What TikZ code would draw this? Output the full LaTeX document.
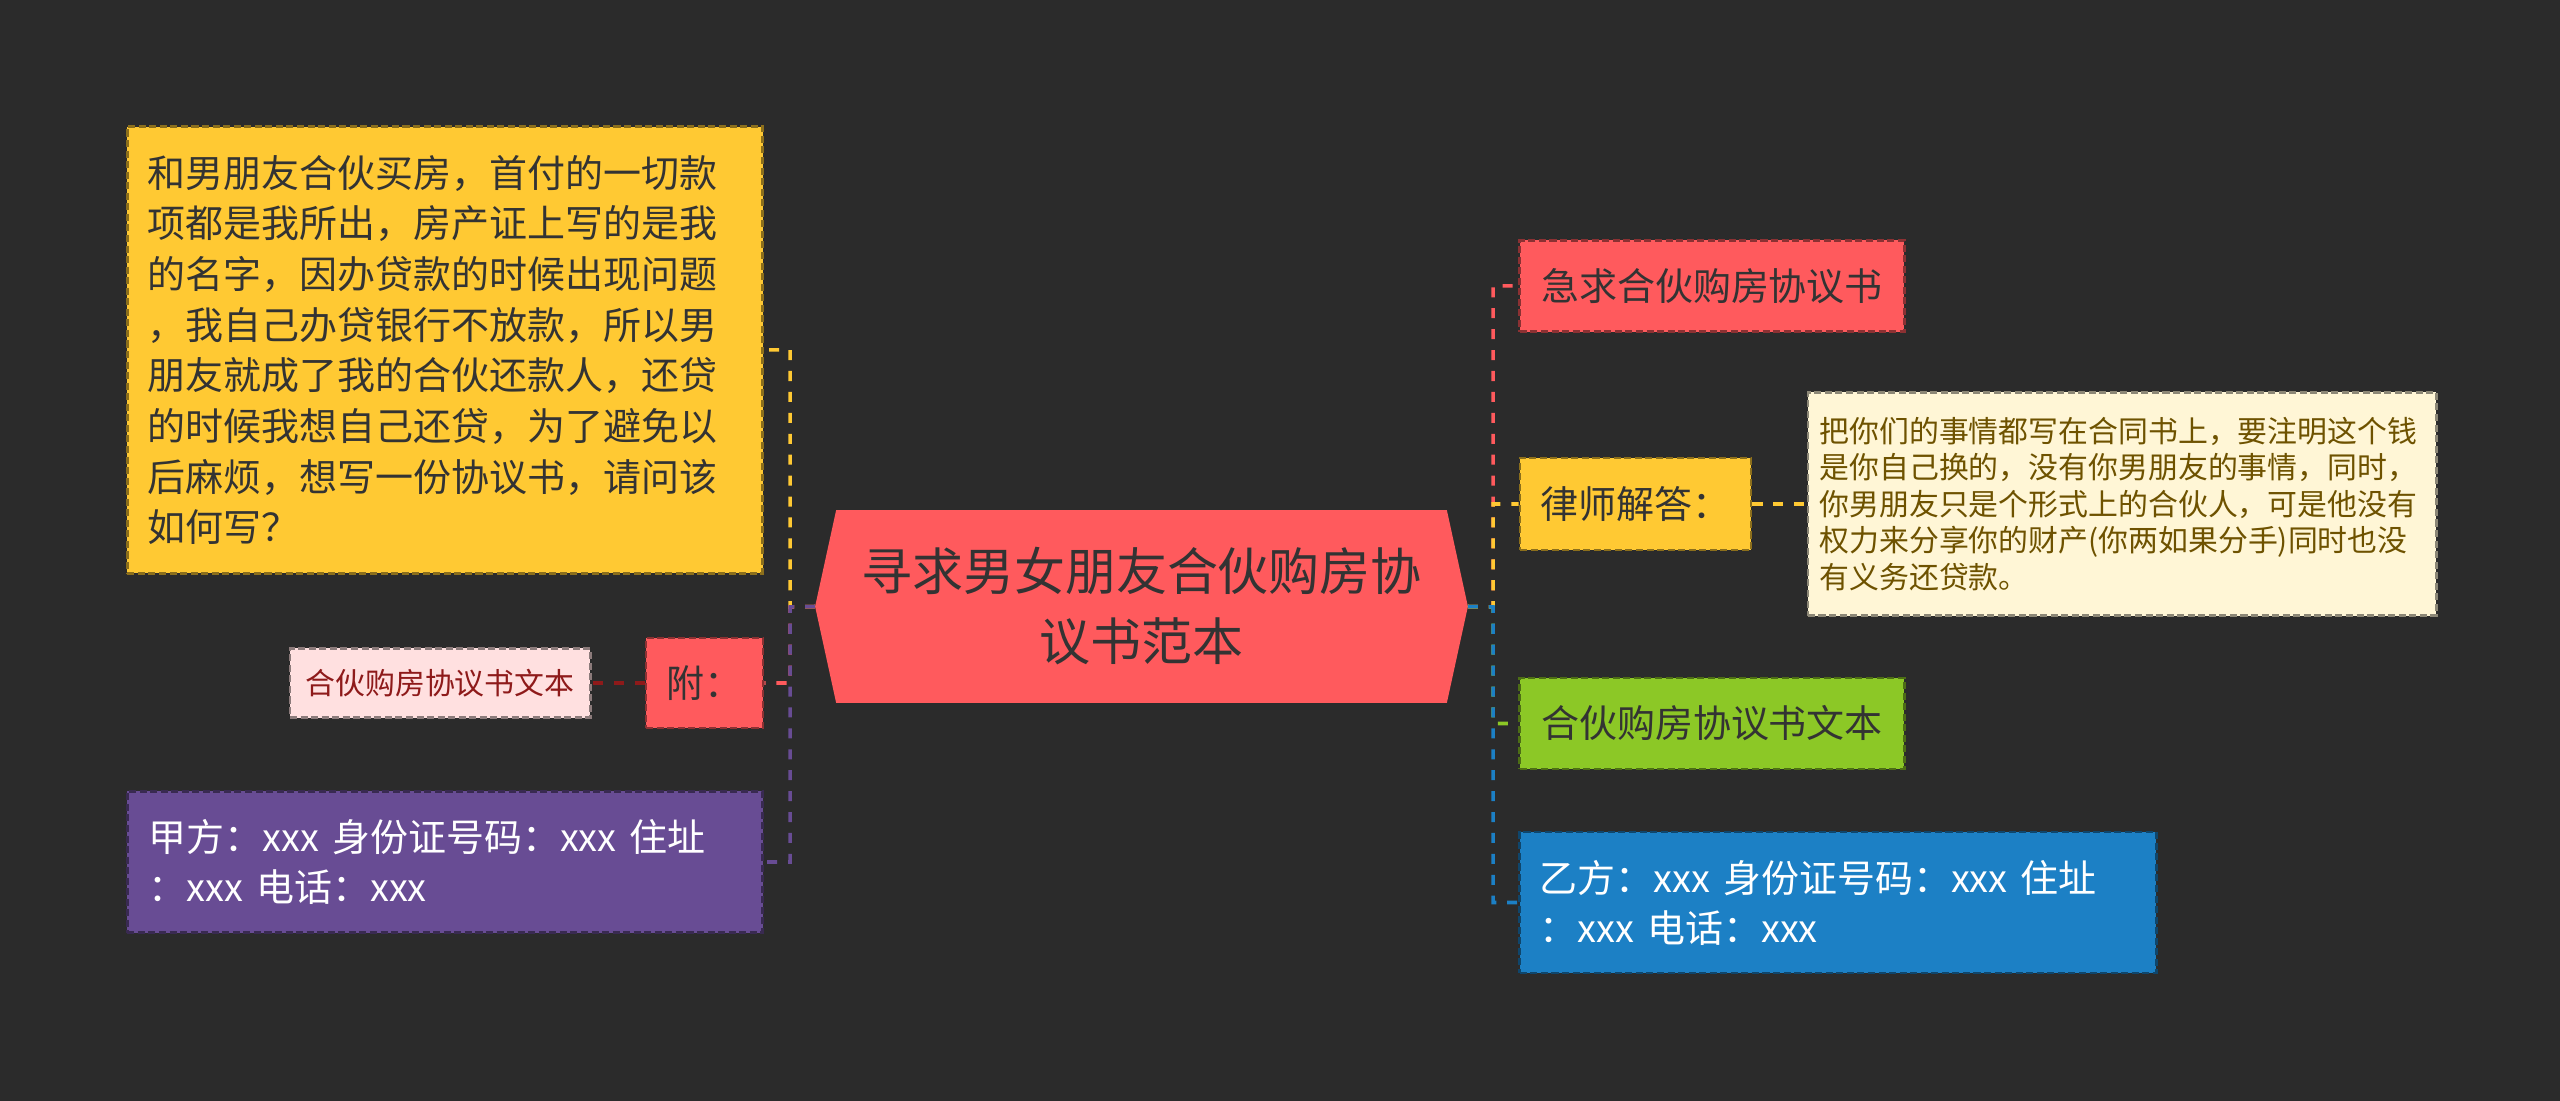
\documentclass[tikz,border=0pt]{standalone}
\usepackage{fontspec}
\setmainfont{Noto Sans CJK SC}
\usetikzlibrary{positioning,backgrounds}

\definecolor{bgdark}{HTML}{2B2B2B}
\definecolor{coral}{HTML}{FF5A5D}
\definecolor{amber}{HTML}{FFC933}
\definecolor{grape}{HTML}{684C94}
\definecolor{lime}{HTML}{8CC826}
\definecolor{ocean}{HTML}{1C80C5}
\definecolor{cream}{HTML}{FFF6D6}
\definecolor{blush}{HTML}{FFE0E0}
\definecolor{ink}{HTML}{333333}
\definecolor{maroon}{HTML}{8E1A1A}
\definecolor{umber}{HTML}{6E5200}
\newcommand{\fs}[2]{\fontsize{#1}{#2}\selectfont}

\begin{document}
\begin{tikzpicture}[x=0.01cm, y=-0.01cm,
  box/.style={draw=#1!55!black, fill=#1, dash pattern=on 2pt off 1pt, line width=0.8pt, inner sep=0pt, align=center},
  link/.style={draw=#1, line width=1pt, dash pattern=on 2.85pt off 3.1pt}]
  \useasboundingbox (0,0) rectangle (2560,1101);

  % central topic
  \node[text=ink, minimum width=6.51cm, minimum height=1.91cm, align=center, font=\fs{14.5pt}{19.9pt}] (root) at (1141.5,606.5) {寻求男女朋友合伙购房协\\议书范本};
  \coordinate (lhub) at (790,607);
  \coordinate (rhub) at (1493,607);

  % left branch
  \node[box=amber, text=ink, minimum width=6.35cm, minimum height=4.46cm, text width=5.95cm, align=left, font=\fs{10.8pt}{14.4pt}] (ask) at (445,350) {和男朋友合伙买房，首付的一切款\\项都是我所出，房产证上写的是我\\的名字，因办贷款的时候出现问题\\，我自己办贷银行不放款，所以男\\朋友就成了我的合伙还款人，还贷\\的时候我想自己还贷，为了避免以\\后麻烦，想写一份协议书，请问该\\如何写？};
  \node[box=coral, text=ink, minimum width=1.17cm, minimum height=0.9cm, font=\fs{10.8pt}{14pt}] (fu) at (704.5,683) {附：};
  \node[box=blush, text=maroon, minimum width=3cm, minimum height=0.69cm, font=\fs{8.5pt}{10.4pt}, left=0.53cm of fu] (doctext) {合伙购房协议书文本};
  \node[box=grape, text=white, minimum width=6.35cm, minimum height=1.41cm, text width=5.92cm, align=left, font=\fs{10.8pt}{14.2pt}] (partya) at (445,862) {甲方：xxx 身份证号码：xxx 住址\\：xxx 电话：xxx};

  % right branch
  \node[box=coral, text=ink, minimum width=3.84cm, minimum height=0.91cm, font=\fs{10.8pt}{14pt}] (urgent) at (1712,286) {急求合伙购房协议书};
  \node[box=amber, text=ink, minimum width=2.31cm, minimum height=0.92cm, font=\fs{10.8pt}{14pt}] (lawyer) at (1635.5,504) {律师解答：};
  \node[box=cream, text=umber, minimum width=6.28cm, minimum height=2.23cm, text width=6.05cm, align=left, font=\fs{8.5pt}{10.4pt}, right=0.54cm of lawyer] (answer) {把你们的事情都写在合同书上，要注明这个钱\\是你自己换的，没有你男朋友的事情，同时，\\你男朋友只是个形式上的合伙人，可是他没有\\权力来分享你的财产(你两如果分手)同时也没\\有义务还贷款。};
  \node[box=lime, text=ink, minimum width=3.84cm, minimum height=0.91cm, font=\fs{10.8pt}{14pt}] (pacttext) at (1712,723.5) {合伙购房协议书文本};
  \node[box=ocean, text=white, minimum width=6.36cm, minimum height=1.41cm, text width=5.96cm, align=left, font=\fs{10.8pt}{14.2pt}] (partyb) at (1838,902.5) {乙方：xxx 身份证号码：xxx 住址\\：xxx 电话：xxx};

  \begin{scope}[on background layer]
    \fill[bgdark] (0,0) rectangle (2560,1101);
    \fill[coral] (root.west) -- ([xshift=0.21cm]root.north west) -- ([xshift=-0.21cm]root.north east) -- (root.east) -- ([xshift=-0.21cm]root.south east) -- ([xshift=0.21cm]root.south west) -- cycle;
  \end{scope}

  % connectors
  \draw[link=amber] (root.west) -- (lhub) |- (ask.east);
  \draw[link=coral] (root.west) -- (lhub) |- (fu.east);
  \draw[link=grape] (root.west) -- (lhub) |- (partya.east);
  \draw[link=maroon] (fu.west) -- (doctext.east);
  \draw[link=coral] (root.east) -- (rhub) |- (urgent.west);
  \draw[link=amber] (root.east) -- (rhub) |- (lawyer.west);
  \draw[link=lime] (root.east) -- (rhub) |- (pacttext.west);
  \draw[link=ocean] (root.east) -- (rhub) |- (partyb.west);
  \draw[link=amber] (lawyer.east) -- (answer.west);
\end{tikzpicture}
\end{document}
